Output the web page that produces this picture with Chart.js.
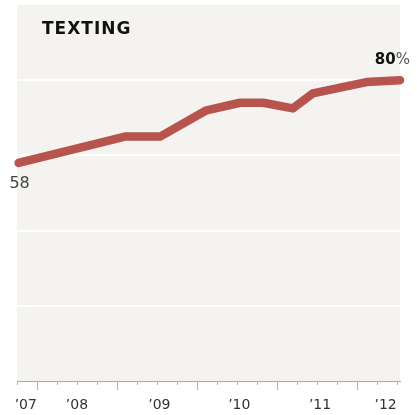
<!DOCTYPE html>
<html>
<head>
<meta charset="utf-8">
<script src="https://cdn.jsdelivr.net/npm/chart.js@4/dist/chart.umd.min.js"></script>
<style>
  html, body { margin: 0; padding: 0; background: #fff; }
  #wrap { width: 417px; height: 415px; }
</style>
</head>
<body>
<div id="wrap"><canvas id="c"></canvas></div>
<script>
// survey dates (decimal years) and share of adults who text, %
const surveyDates = [2007.77, 2009.10, 2009.54, 2010.12, 2010.54, 2010.83, 2011.2, 2011.45, 2012.12, 2012.54];
const textingPct = [58, 65, 65, 72, 74, 74, 72.5, 76.5, 79.5, 80];

const yearLabels = ['\u201907', '\u201908', '\u201909', '\u201910', '\u201911', '\u201912'];
const yearLabelPos = [2007.86, 2008.5, 2009.53, 2010.53, 2011.54, 2012.36];
const yGridValues = [0, 20, 40, 60, 80, 100];

const FONT = '"DejaVu Sans", Verdana, sans-serif';
const LINE = '#b8544e';

/** fill the plot area and draw quarter tick marks + callouts */
const decor = {
  id: 'decor',
  beforeDraw(chart) {
    const { ctx, chartArea: a } = chart;
    ctx.save();
    ctx.fillStyle = '#f4f3ef';
    ctx.fillRect(a.left, a.top, a.right - a.left, a.bottom - a.top);
    ctx.restore();
  },
  afterDraw(chart) {
    const { ctx, chartArea: a } = chart;
    const xs = chart.scales.x, ys = chart.scales.y;
    ctx.save();
    // quarter ticks below the axis
    ctx.strokeStyle = '#b0b0b0';
    ctx.lineWidth = 1;
    for (let q = 2007.75; q <= 2012.55; q += 0.25) {
      const px = Math.round(xs.getPixelForValue(q)) + 0.5;
      const major = Math.abs(q - Math.round(q)) < 0.01;
      ctx.beginPath();
      ctx.moveTo(px, a.bottom);
      ctx.lineTo(px, a.bottom + (major ? 9 : 4));
      ctx.stroke();
    }
    // title
    ctx.fillStyle = '#111';
    ctx.font = 'bold 17px ' + FONT;
    ctx.letterSpacing = '1px';
    ctx.textBaseline = 'middle';
    ctx.textAlign = 'left';
    ctx.fillText('TEXTING', 42, 30);
    ctx.letterSpacing = '0px';
    // first value
    const x0 = xs.getPixelForValue(surveyDates[0]);
    const y0 = ys.getPixelForValue(textingPct[0]);
    ctx.fillStyle = '#444';
    ctx.font = '16px ' + FONT;
    ctx.textAlign = 'center';
    ctx.fillText(String(textingPct[0]), x0 + 1, y0 + 21);
    // last value
    const n = textingPct.length - 1;
    const x1 = xs.getPixelForValue(surveyDates[n]);
    const y1 = ys.getPixelForValue(textingPct[n]);
    ctx.textAlign = 'right';
    ctx.font = '15px ' + FONT;
    const pw = ctx.measureText('%').width;
    ctx.fillStyle = '#555';
    ctx.fillText('%', x1 + 10, y1 - 20);
    ctx.font = 'bold 15px ' + FONT;
    ctx.fillStyle = '#111';
    ctx.fillText(String(textingPct[n]), x1 + 10 - pw, y1 - 20);
    ctx.restore();
  }
};

new Chart(document.getElementById('c'), {
  type: 'line',
  data: {
    datasets: [{
      data: surveyDates.map((d, i) => ({ x: d, y: textingPct[i] })),
      borderColor: LINE,
      borderWidth: 8.5,
      borderCapStyle: 'round',
      borderJoinStyle: 'round',
      pointRadius: 0,
      tension: 0,
      clip: false
    }]
  },
  options: {
    responsive: true,
    maintainAspectRatio: false,
    animation: false,
    layout: { padding: { left: 17, right: 17, top: 5, bottom: 0 } },
    plugins: { legend: { display: false }, tooltip: { enabled: false } },
    scales: {
      x: {
        type: 'linear',
        min: 2007.75,
        max: 2012.54,
        afterBuildTicks: s => { s.ticks = yearLabelPos.map(v => ({ value: v })); },
        afterFit: s => { s.height = 34; },
        grid: { display: false },
        border: { display: true, color: '#a9a9a9', width: 1 },
        ticks: {
          padding: 8,
          autoSkip: false,
          maxRotation: 0,
          color: '#333',
          font: { family: FONT, size: 14 },
          callback: (v, i) => yearLabels[i]
        }
      },
      y: {
        min: 0,
        max: 100,
        afterBuildTicks: s => { s.ticks = yGridValues.map(v => ({ value: v })); },
        afterFit: s => { s.width = 0; },
        border: { display: false },
        grid: {
          drawTicks: false,
          lineWidth: 2,
          color: c => (c.tick && (c.tick.value === 0 || c.tick.value === 100)) ? 'rgba(0,0,0,0)' : '#ffffff'
        },
        ticks: { display: false }
      }
    }
  },
  plugins: [decor]
});
</script>
</body>
</html>
